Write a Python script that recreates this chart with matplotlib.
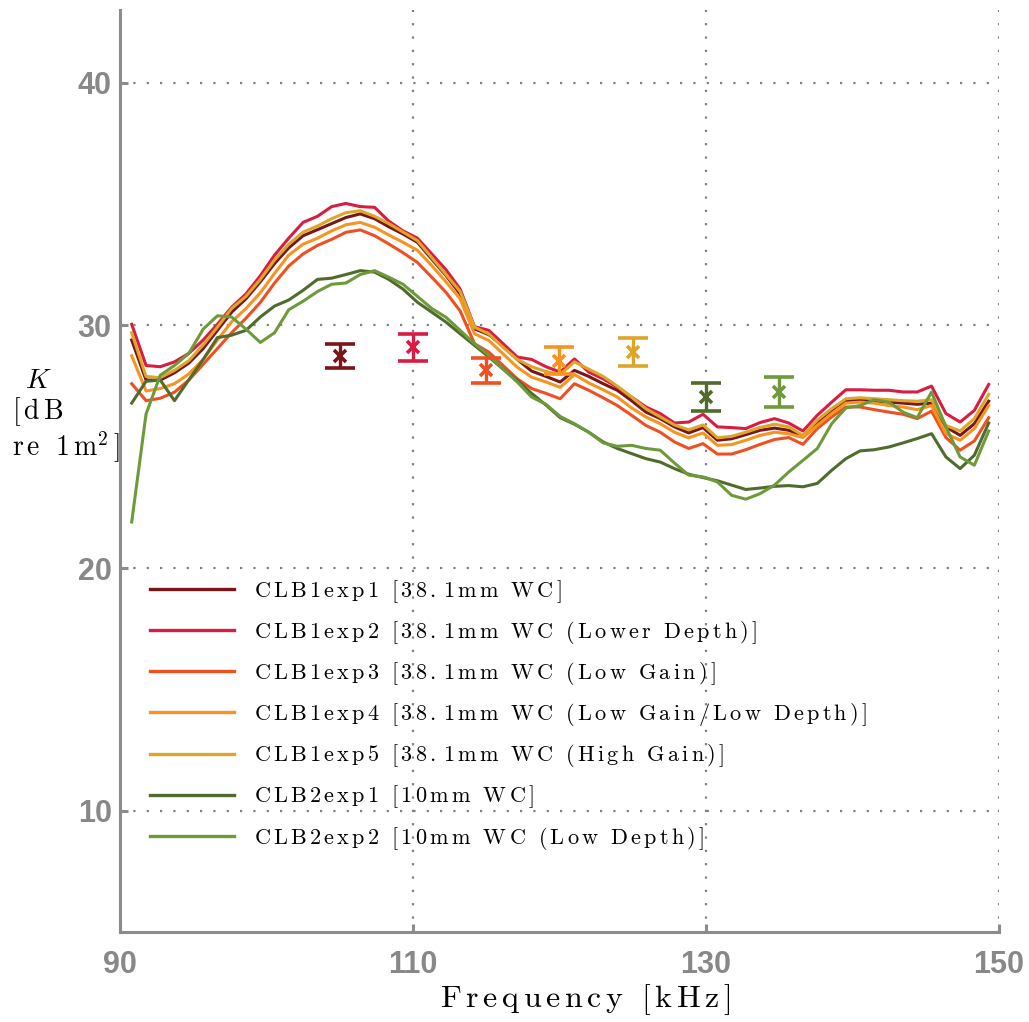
import matplotlib
matplotlib.use('Agg')
import matplotlib.pyplot as plt

plt.rcParams['mathtext.fontset'] = 'cm'

# frequency grid of the measured curves [kHz]
freq = [90.8, 91.78, 92.75, 93.72, 94.7, 95.68, 96.65, 97.62, 98.6, 99.58,
        100.55, 101.52, 102.5, 103.48, 104.45, 105.42, 106.4, 107.38, 108.35, 109.32,
        110.3, 111.28, 112.25, 113.22, 114.2, 115.18, 116.15, 117.12, 118.1, 119.08,
        120.05, 121.02, 122.0, 122.98, 123.95, 124.92, 125.9, 126.88, 127.85, 128.82,
        129.8, 130.78, 131.75, 132.72, 133.7, 134.68, 135.65, 136.62, 137.6, 138.58,
        139.55, 140.52, 141.5, 142.48, 143.45, 144.42, 145.4, 146.38, 147.35, 148.32,
        149.3]

clb1exp1 = [29.4, 27.75, 27.75, 28.05, 28.45, 29.05, 29.8, 30.55, 31.1, 31.8,
            32.55, 33.2, 33.7, 33.95, 34.2, 34.45, 34.6, 34.4, 34.07, 33.77,
            33.43, 32.74, 32.06, 31.3, 29.86, 29.62, 29.15, 28.6, 28.12, 27.9,
            27.67, 28.15, 27.9, 27.6, 27.33, 26.9, 26.43, 26.16, 25.82, 25.57,
            25.79, 25.27, 25.33, 25.5, 25.68, 25.77, 25.68, 25.43, 26.02, 26.5,
            26.9, 26.94, 26.88, 26.84, 26.8, 26.75, 26.8, 25.82, 25.47, 25.95,
            26.88]
clb1exp2 = [30.05, 28.35, 28.3, 28.5, 28.85, 29.4, 30.05, 30.75, 31.3, 32.05,
            32.9, 33.6, 34.25, 34.5, 34.9, 35.03, 34.9, 34.87, 34.3, 33.9,
            33.6, 32.95, 32.3, 31.5, 29.95, 29.8, 29.25, 28.7, 28.6, 28.3,
            28.08, 28.62, 28.08, 27.8, 27.46, 27.05, 26.64, 26.37, 25.98, 26.02,
            26.34, 25.82, 25.79, 25.75, 26.0, 26.16, 25.98, 25.65, 26.3, 26.84,
            27.35, 27.35, 27.33, 27.33, 27.26, 27.26, 27.5, 26.37, 26.02, 26.5,
            27.57]
clb1exp3 = [27.6, 26.9, 27.0, 27.25, 27.75, 28.4, 29.05, 29.7, 30.3, 30.95,
            31.75, 32.45, 32.95, 33.3, 33.55, 33.84, 33.94, 33.7, 33.36, 33.0,
            32.6, 31.99, 31.37, 30.6, 29.25, 28.9, 28.35, 27.8, 27.4, 27.2,
            26.98, 27.6, 27.33, 27.02, 26.7, 26.3, 25.88, 25.6, 25.2, 24.93,
            25.13, 24.7, 24.7, 24.88, 25.1, 25.3, 25.38, 25.1, 25.75, 26.23,
            26.64, 26.64, 26.53, 26.43, 26.34, 26.16, 26.47, 25.38, 24.86, 25.24,
            26.2]
clb1exp4 = [28.75, 27.3, 27.4, 27.6, 28.0, 28.6, 29.4, 30.15, 30.7, 31.35,
            32.15, 32.9, 33.35, 33.6, 33.9, 34.15, 34.25, 34.05, 33.73, 33.43,
            33.1, 32.47, 31.8, 31.1, 29.66, 29.38, 28.83, 28.28, 27.87, 27.67,
            27.45, 27.98, 27.63, 27.35, 27.05, 26.6, 26.23, 25.95, 25.6, 25.37,
            25.57, 25.06, 25.09, 25.27, 25.47, 25.6, 25.54, 25.38, 25.88, 26.37,
            26.8, 26.84, 26.8, 26.7, 26.64, 26.53, 26.7, 25.54, 25.27, 25.75,
            26.7]
clb1exp5 = [29.7, 27.9, 27.85, 28.15, 28.55, 29.2, 29.93, 30.7, 31.2, 31.9,
            32.7, 33.35, 33.85, 34.1, 34.4, 34.65, 34.73, 34.5, 34.2, 33.85,
            33.5, 32.8, 32.1, 31.4, 29.93, 29.65, 29.1, 28.6, 28.3, 28.1,
            27.98, 28.5, 28.2, 27.9, 27.5, 27.05, 26.57, 26.23, 25.9, 25.7,
            25.9, 25.37, 25.43, 25.6, 25.8, 25.93, 25.82, 25.47, 26.1, 26.57,
            26.98, 27.02, 26.98, 26.94, 26.9, 26.88, 26.94, 25.88, 25.65, 26.16,
            27.16]
clb2exp1 = [26.8, 27.7, 27.75, 26.9, 27.76, 28.6, 29.5, 29.6, 29.8, 30.35,
            30.8, 31.05, 31.45, 31.9, 31.95, 32.1, 32.26, 32.2, 31.9, 31.5,
            30.96, 30.55, 30.14, 29.66, 29.18, 28.7, 28.2, 27.74, 27.2, 26.72,
            26.2, 25.93, 25.6, 25.2, 24.93, 24.72, 24.51, 24.37, 24.1, 23.87,
            23.73, 23.6, 23.42, 23.24, 23.3, 23.37, 23.4, 23.35, 23.49, 24.03,
            24.51, 24.83, 24.88, 24.99, 25.16, 25.34, 25.54, 24.58, 24.1, 24.65,
            25.98]
clb2exp2 = [21.9, 26.35, 27.95, 28.35, 28.85, 29.85, 30.4, 30.35, 29.85, 29.3,
            29.7, 30.65, 31.0, 31.4, 31.7, 31.75, 32.1, 32.26, 31.99, 31.7,
            31.2, 30.7, 30.34, 29.8, 29.25, 28.77, 28.2, 27.67, 27.05, 26.75,
            26.25, 25.95, 25.6, 25.16, 25.02, 25.06, 24.93, 24.86, 24.33, 23.83,
            23.76, 23.55, 23.0, 22.84, 23.07, 23.42, 23.96, 24.44, 24.93, 25.95,
            26.6, 26.7, 26.94, 26.84, 26.43, 26.2, 27.26, 25.82, 24.58, 24.24,
            25.65]

labels = ['CLB1exp1 [38.1mm WC]',
          'CLB1exp2 [38.1mm WC (Lower Depth)]',
          'CLB1exp3 [38.1mm WC (Low Gain)]',
          'CLB1exp4 [38.1mm WC (Low Gain/Low Depth)]',
          'CLB1exp5 [38.1mm WC (High Gain)]',
          'CLB2exp1 [10mm WC]',
          'CLB2exp2 [10mm WC (Low Depth)]']
colors = ['#7a161a', '#d91c42', '#ef5022', '#f7931e', '#dea628', '#506b2b', '#6e9a3b']

# single-target estimates with error bars
err_freq = [105, 110, 115, 120, 125, 130, 135]
err_mean = [28.75, 29.1, 28.15, 28.55, 28.9, 27.05, 27.25]
err_half = [0.5, 0.55, 0.52, 0.55, 0.57, 0.57, 0.62]


def spaced(text):
    # LaTeX-ish letter spaced roman text via mathtext
    parts = ['\\ ' if c == ' ' else c for c in text]
    return '$\\mathrm{' + '\\,'.join(parts) + '}$'


fig = plt.figure(figsize=(10.29, 10.22), dpi=100)
ax = fig.add_axes([0.1166, 0.0881, 0.8542, 0.902])

series = [clb1exp1, clb1exp2, clb1exp3, clb1exp4, clb1exp5, clb2exp1, clb2exp2]
for vals, lab, col in zip(series, labels, colors):
    ax.plot(freq, vals, color=col, linewidth=2.2, label=spaced(lab))

for f, m, h, col in zip(err_freq, err_mean, err_half, colors):
    ax.errorbar(f, m, yerr=h, fmt='x', color=col, markersize=9, markeredgewidth=2.6,
                capsize=11, capthick=2.4, elinewidth=2.4)

ax.set_xlim(90, 150)
ax.set_ylim(5, 43)
ax.set_xticks([90, 110, 130, 150])
ax.set_yticks([10, 20, 30, 40])

gray = '#8c8c8c'
for side in ['top', 'right']:
    ax.spines[side].set_visible(False)
for side in ['left', 'bottom']:
    ax.spines[side].set_color(gray)
    ax.spines[side].set_linewidth(2.2)

ax.grid(True, linestyle=(0, (1, 5)), color='#808080', linewidth=1.6)
ax.tick_params(direction='in', length=6, width=2.2, color=gray,
               labelsize=22, labelcolor='#888888')
ax.tick_params(axis='x', pad=13)
ax.tick_params(axis='y', pad=6)
for lbl in ax.get_xticklabels() + ax.get_yticklabels():
    lbl.set_fontfamily('Liberation Sans')
    lbl.set_fontweight('bold')

leg = ax.legend(loc='upper left', bbox_to_anchor=(92.05, 19.6), bbox_transform=ax.transData,
                frameon=False, fontsize=16, handlelength=3.8, handletextpad=0.9,
                labelspacing=0.64, borderpad=0, borderaxespad=0)
for line in leg.get_lines():
    line.set_linewidth(2.4)

# y label written as three short lines on the left
fig.text(0.024, 0.628, r'$K$', fontsize=20, va='center', ha='left')
fig.text(0.012, 0.597, spaced('[dB'), fontsize=20, va='center', ha='left')
fig.text(0.012, 0.562, r'$\mathrm{r\,e\ \ 1\,m^{2}\,]}$', fontsize=20, va='center', ha='left')

fig.text(0.5685, 0.022, spaced('Frequency [kHz]'), fontsize=23, ha='center', va='center')

fig.savefig('out.png', dpi=100, facecolor='white')
